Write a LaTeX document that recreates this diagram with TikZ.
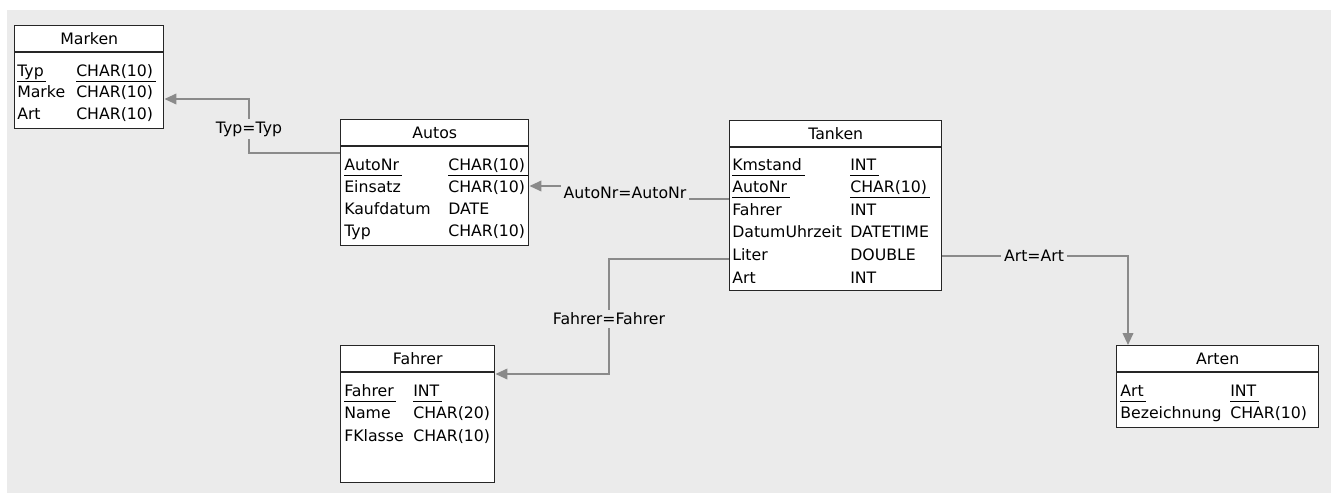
\documentclass[tikz,border=0pt]{standalone}
\usepackage{fontspec}
\setmainfont{DejaVu Sans}
\usetikzlibrary{arrows.meta,positioning,calc}
\definecolor{canvas}{HTML}{EBEBEB}
\definecolor{linkgray}{HTML}{8A8A8A}
\newcommand{\pk}[1]{\underline{\vphantom{p}#1\,}}
\begin{document}
\begin{tikzpicture}[
    x=0.75pt, y=-0.75pt,
    font=\fontsize{11.8}{13}\selectfont,
    tbl/.style={draw=black!85, line width=1.1pt, fill=white,
        anchor=north west, inner sep=0pt},
    tblline/.style={draw=black!85, line width=1.1pt},
    hdr/.style={inner sep=0pt},
    fld/.style={anchor=base west, inner sep=0pt},
    link/.style={draw=linkgray, line width=1.3pt},
    linkarr/.style={link, -{Triangle[length=9pt, width=8pt]}},
    lbl/.style={fill=canvas, inner sep=2pt}
]
\useasboundingbox (0,0) rectangle (1331,493);
\fill[white] (0,0) rectangle (1331,493);
\fill[canvas] (7,10) rectangle (1331,493);

% Tables
\node[tbl, minimum width=149*0.75pt, minimum height=103*0.75pt] (marken) at (14,25) {};
\node[tbl, minimum width=188*0.75pt, minimum height=126*0.75pt] (autos) at (340,119) {};
\node[tbl, minimum width=212*0.75pt, minimum height=170*0.75pt] (tanken) at (729,120) {};
\node[tbl, minimum width=154*0.75pt, minimum height=137*0.75pt] (fahrer) at (340,345) {};
\node[tbl, minimum width=202*0.75pt, minimum height=82*0.75pt] (arten) at (1116,345) {};

% Title bars
\foreach \tab/\title in {marken/Marken, autos/Autos, tanken/Tanken, fahrer/Fahrer, arten/Arten} {
    \draw[tblline] ([yshift=-27*0.75pt]\tab.north west) -- ([yshift=-27*0.75pt]\tab.north east);
    \node[hdr] (\tab-title) at ($(\tab.north)+(0,13.5)$) {\title};
}

% Fields
\foreach \colname/\coltype [count=\i] in {\pk{Typ}/\pk{CHAR(10)}, Marke/CHAR(10), Art/CHAR(10)} {
    \node[fld] (marken-n\i) at (17,{76+21.5*(\i-1)}) {\colname};
    \node[fld] (marken-t\i) at (76,{76+21.5*(\i-1)}) {\coltype};
}
\foreach \colname/\coltype [count=\i] in {\pk{AutoNr}/\pk{CHAR(10)}, Einsatz/CHAR(10), Kaufdatum/DATE, Typ/CHAR(10)} {
    \node[fld] (autos-n\i) at (344,{170+22*(\i-1)}) {\colname};
    \node[fld] (autos-t\i) at (448,{170+22*(\i-1)}) {\coltype};
}
\foreach \colname/\coltype [count=\i] in {\pk{Kmstand}/\pk{INT}, \pk{AutoNr}/\pk{CHAR(10)}, Fahrer/INT,
        DatumUhrzeit/DATETIME, Liter/DOUBLE, Art/INT} {
    \node[fld] (tanken-n\i) at (732,{170+22.6*(\i-1)}) {\colname};
    \node[fld] (tanken-t\i) at (850,{170+22.6*(\i-1)}) {\coltype};
}
\foreach \colname/\coltype [count=\i] in {\pk{Fahrer}/\pk{INT}, Name/CHAR(20), FKlasse/CHAR(10)} {
    \node[fld] (fahrer-n\i) at (344,{396+22.5*(\i-1)}) {\colname};
    \node[fld] (fahrer-t\i) at (413,{396+22.5*(\i-1)}) {\coltype};
}
\foreach \colname/\coltype [count=\i] in {\pk{Art}/\pk{INT}, Bezeichnung/CHAR(10)} {
    \node[fld] (arten-n\i) at (1120,{396+22.5*(\i-1)}) {\colname};
    \node[fld] (arten-t\i) at (1230,{396+22.5*(\i-1)}) {\coltype};
}

% Relations
\coordinate (typ-mid) at (249,129);
\coordinate (autonr-mid) at (625,193);
\coordinate (fahrer-mid) at (609,319);
\coordinate (art-mid) at (1034,256);

\draw[linkarr] ([yshift=-34*0.75pt]autos.north west) -| (typ-mid)
    |- ([yshift=-74*0.75pt]marken.north east);
\draw[linkarr] ([yshift=-79*0.75pt]tanken.north west) -| (autonr-mid)
    |- ([yshift=-67*0.75pt]autos.north east);
\draw[linkarr] ([yshift=-139*0.75pt]tanken.north west) -| (fahrer-mid)
    |- ([yshift=-29*0.75pt]fahrer.north east);
\draw[linkarr] ([yshift=-136*0.75pt]tanken.north east) -- (art-mid)
    -| ([xshift=12*0.75pt]arten.north west);

\node[lbl] (typ-lbl) at (typ-mid) {Typ=Typ};
\node[lbl] (autonr-lbl) at (autonr-mid) {AutoNr=AutoNr};
\node[lbl] (fahrer-lbl) at (fahrer-mid) {Fahrer=Fahrer};
\node[lbl] (art-lbl) at (art-mid) {Art=Art};

\end{tikzpicture}
\end{document}
